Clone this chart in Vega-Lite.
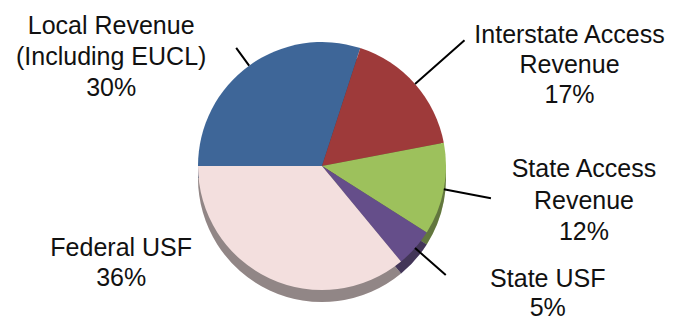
{
  "$schema": "https://vega.github.io/schema/vega-lite/v6.json",
  "autosize": {"type": "none"},
  "width": 644,
  "height": 314,
  "padding": {"left": 0, "top": 9, "right": 36, "bottom": 0},
  "background": "white",
  "config": {"view": {"stroke": null}, "text": {"font": "Liberation Sans"}},
  "data": {
    "values": [
      {"cat": "Local Revenue", "label": "Local Revenue\n(Including EUCL)\n30%", "value": 30, "order": 1},
      {"cat": "Interstate Access Revenue", "label": "Interstate Access\nRevenue\n17%", "value": 17, "order": 2},
      {"cat": "State Access Revenue", "label": "State Access\nRevenue\n12%", "value": 12, "order": 3},
      {"cat": "State USF", "label": "State USF\n5%", "value": 5, "order": 4},
      {"cat": "Federal USF", "label": "Federal USF\n36%", "value": 36, "order": 5}
    ]
  },
  "encoding": {
    "theta": {"field": "value", "type": "quantitative", "stack": true, "scale": {"range": [-1.5707963, 4.712389]}},
    "order": {"field": "order", "type": "quantitative"}
  },
  "layer": [
    {
      "mark": {"type": "arc", "radius": 124, "yOffset": 12, "stroke": null},
      "encoding": {
        "color": {"field": "cat", "type": "nominal", "legend": null,
          "scale": {"domain": ["Local Revenue", "Interstate Access Revenue", "State Access Revenue", "State USF", "Federal USF"],
                    "range": ["#3E6698", "#9E3A3A", "#9DC15C", "#654E8A", "#F3DFDE"]}}
      }
    },
    {
      "mark": {"type": "arc", "radius": 124, "yOffset": 12, "fill": "#1a1a1a", "fillOpacity": 0.45, "stroke": null},
      "encoding": {}
    },
    {
      "mark": {"type": "arc", "radius": 124, "stroke": null},
      "encoding": {
        "color": {"field": "cat", "type": "nominal", "legend": null}
      }
    },
    {
      "mark": {"type": "arc", "radius": 146, "radius2": 124, "padAngle": 3, "filled": false, "stroke": "#000", "strokeWidth": 2},
      "encoding": {"strokeOpacity": {"condition": {"test": "datum.cat === 'Local Revenue'", "value": 1}, "value": 0}}
    },
    {
      "mark": {"type": "arc", "radius": 190, "radius2": 124, "padAngle": 3, "filled": false, "stroke": "#000", "strokeWidth": 2},
      "encoding": {"strokeOpacity": {"condition": {"test": "datum.cat === 'Interstate Access Revenue'", "value": 1}, "value": 0}}
    },
    {
      "mark": {"type": "arc", "radius": 172, "radius2": 124, "padAngle": 3, "filled": false, "stroke": "#000", "strokeWidth": 2},
      "encoding": {"strokeOpacity": {"condition": {"test": "datum.cat === 'State Access Revenue'", "value": 1}, "value": 0}}
    },
    {
      "mark": {"type": "arc", "radius": 165, "radius2": 124, "padAngle": 3, "filled": false, "stroke": "#000", "strokeWidth": 2},
      "encoding": {"strokeOpacity": {"condition": {"test": "datum.cat === 'State USF'", "value": 1}, "value": 0}}
    },
    {
      "mark": {"type": "text", "radius": 146, "dx": -125, "dy": -14, "align": "center", "baseline": "alphabetic", "fontSize": 25, "lineHeight": 31, "lineBreak": "\n", "color": "#111"},
      "encoding": {"text": {"condition": {"test": "datum.cat === 'Local Revenue'", "field": "label"}, "value": ""}}
    },
    {
      "mark": {"type": "text", "radius": 190, "dx": 105, "dy": 3, "align": "center", "baseline": "alphabetic", "fontSize": 25, "lineHeight": 30, "lineBreak": "\n", "color": "#111"},
      "encoding": {"text": {"condition": {"test": "datum.cat === 'Interstate Access Revenue'", "field": "label"}, "value": ""}}
    },
    {
      "mark": {"type": "text", "radius": 172, "dx": 93, "dy": -21, "align": "center", "baseline": "alphabetic", "fontSize": 25, "lineHeight": 31.5, "lineBreak": "\n", "color": "#111"},
      "encoding": {"text": {"condition": {"test": "datum.cat === 'State Access Revenue'", "field": "label"}, "value": ""}}
    },
    {
      "mark": {"type": "text", "radius": 165, "dx": 102, "dy": 12, "align": "center", "baseline": "alphabetic", "fontSize": 25, "lineHeight": 29, "lineBreak": "\n", "color": "#111"},
      "encoding": {"text": {"condition": {"test": "datum.cat === 'State USF'", "field": "label"}, "value": ""}}
    },
    {
      "mark": {"type": "text", "radius": 124, "dx": -148, "dy": -22, "align": "center", "baseline": "alphabetic", "fontSize": 25, "lineHeight": 30, "lineBreak": "\n", "color": "#111"},
      "encoding": {"text": {"condition": {"test": "datum.cat === 'Federal USF'", "field": "label"}, "value": ""}}
    }
  ]
}
